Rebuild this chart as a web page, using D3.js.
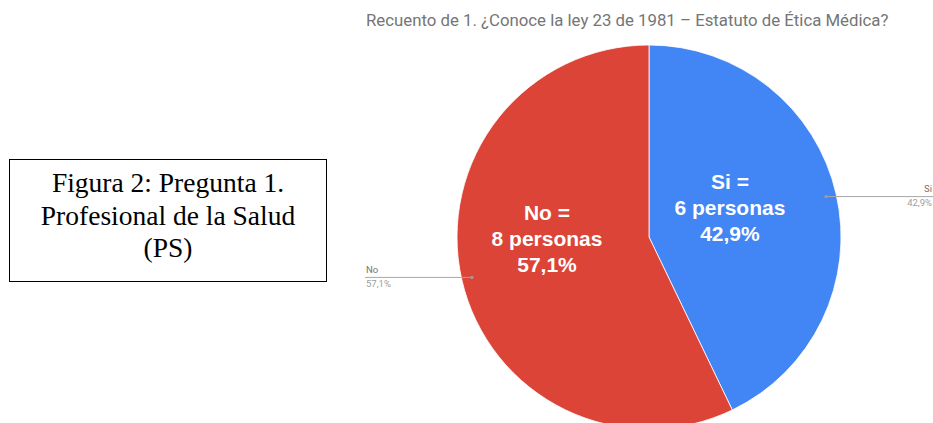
<!DOCTYPE html>
<html>
<head>
<meta charset="utf-8">
<script src="https://cdn.jsdelivr.net/npm/d3@7"></script>
<style>
  html, body { margin: 0; padding: 0; background: #fff; }
  svg { display: block; }
</style>
</head>
<body>
<svg id="chart" width="933" height="423"></svg>
<script>
// Survey answers: question 1, health professionals
const categories = ["Si", "No"];
const counts = [6, 8];
const percentLabels = ["42,9%", "57,1%"];
const colors = ["#4285F4", "#DB4437"];
const title = "Recuento de 1. ¿Conoce la ley 23 de 1981 – Estatuto de Ética Médica?";
const captionLines = ["Figura 2: Pregunta 1.", "Profesional de la Salud", "(PS)"];

const svg = d3.select("#chart");
const W = 933, H = 423;

// Caption box on the left
const box = { x: 9.5, y: 159.5, w: 317, h: 122 };
svg.append("rect")
  .attr("x", box.x).attr("y", box.y)
  .attr("width", box.w).attr("height", box.h)
  .attr("fill", "#fff").attr("stroke", "#000").attr("stroke-width", 1);
svg.append("g")
  .selectAll("text")
  .data(captionLines)
  .join("text")
  .attr("x", box.x + box.w / 2)
  .attr("y", (d, i) => 192 + i * 32.5)
  .attr("text-anchor", "middle")
  .attr("font-family", "'Liberation Serif', 'Times New Roman', serif")
  .attr("font-size", 27.5)
  .attr("fill", "#000")
  .text(d => d);

// Chart title
svg.append("text")
  .attr("x", 366).attr("y", 26)
  .attr("font-family", "Roboto, 'Noto Sans', sans-serif")
  .attr("font-size", 16.8)
  .attr("fill", "#757575")
  .text(title);

// Pie
const cx = 649, cy = 237, r = 192;
const data = categories.map((c, i) => ({ name: c, value: counts[i], pct: percentLabels[i], color: colors[i] }));
const pie = d3.pie().sort(null).value(d => d.value);
const arcs = pie(data);
const arc = d3.arc().innerRadius(0).outerRadius(r);

const g = svg.append("g").attr("transform", `translate(${cx},${cy})`);
g.selectAll("path")
  .data(arcs)
  .join("path")
  .attr("d", arc)
  .attr("fill", d => d.data.color)
  .attr("stroke", "#fff")
  .attr("stroke-width", 0.8);

// Inside labels: block centred along each slice's bisector, nudged upward
const labelPlacement = { Si: { radius: 0.865, lift: 11.5 }, No: { radius: 1.09, lift: 22 } };
arcs.forEach(a => {
  const p = labelPlacement[a.data.name];
  const [lx, ly] = d3.arc().innerRadius(0).outerRadius(r * p.radius).centroid(a);
  const my = ly - p.lift;
  const lines = [`${a.data.name} =`, `${a.data.value} personas`, a.data.pct];
  g.append("g")
    .selectAll("text")
    .data(lines)
    .join("text")
    .attr("x", lx)
    .attr("y", (d, i) => my + 7.5 + (i - 1) * 26)
    .attr("text-anchor", "middle")
    .attr("font-family", "'Liberation Sans', Arial, sans-serif")
    .attr("font-weight", "bold")
    .attr("font-size", 21)
    .attr("fill", "#fff")
    .text(d => d);
});

// Outside leader labels
const edge = d3.arc().innerRadius(r * 0.946).outerRadius(r * 0.946);
const leaderFont = "Roboto, 'Noto Sans', sans-serif";
arcs.forEach(a => {
  const [ex, ey] = edge.centroid(a);
  const px = cx + ex, py = cy + ey;
  const right = ex > 0;
  const endX = right ? W : 365;
  svg.append("line")
    .attr("x1", px).attr("y1", py)
    .attr("x2", endX).attr("y2", py)
    .attr("stroke", "#a8a8a8").attr("stroke-width", 1);
  svg.append("circle")
    .attr("cx", px).attr("cy", py).attr("r", 1.6)
    .attr("fill", "#9e9e9e");
  const tx = right ? W - 1 : 366;
  const anchor = right ? "end" : "start";
  svg.append("text")
    .attr("x", tx).attr("y", py - 4.5)
    .attr("text-anchor", anchor)
    .attr("font-family", leaderFont).attr("font-size", 9.5)
    .attr("fill", "#757575")
    .text(a.data.name);
  svg.append("text")
    .attr("x", tx).attr("y", py + 9.5)
    .attr("text-anchor", anchor)
    .attr("font-family", leaderFont).attr("font-size", 9.5)
    .attr("fill", "#9e9e9e")
    .text(a.data.pct);
});
</script>
</body>
</html>
